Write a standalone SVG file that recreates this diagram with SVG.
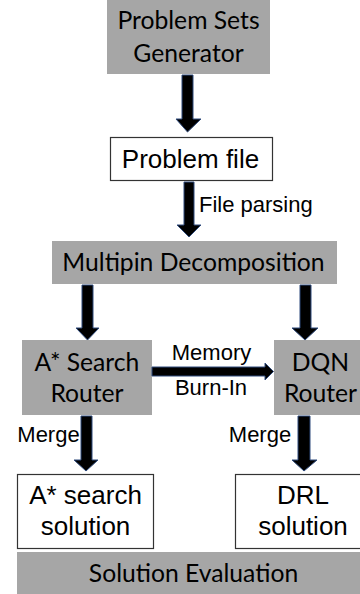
<svg xmlns="http://www.w3.org/2000/svg" width="360" height="594" viewBox="0 0 360 594">
<style>
.g{fill:#a6a6a6}
.w{fill:#fff;stroke:#333;stroke-width:1.2}
.arr{fill:#000;stroke:#2f4b7c;stroke-width:1}
.c{font-family:Lato,"Open Sans",sans-serif;font-size:24.7px;fill:#000;text-anchor:middle}
.a{font-family:"Liberation Sans",Arial,sans-serif;font-size:26px;fill:#000;text-anchor:middle}
.l{font-family:"Liberation Sans",Arial,sans-serif;font-size:22px;fill:#000;text-anchor:middle}
</style>
<rect width="360" height="594" fill="#fff"/>
<g id="gen"><rect class="g" x="107" y="-1" width="163" height="75"/><text class="c" x="188.5" y="29">Problem Sets</text><text class="c" x="188.5" y="62">Generator</text></g>
<g id="pfile"><rect class="w" x="110.5" y="137.5" width="162" height="43"/><text class="a" x="190.5" y="168">Problem file</text></g>
<g id="multipin"><rect class="g" x="52" y="241" width="285" height="43"/><text class="c" x="193.5" y="271">Multipin Decomposition</text></g>
<g id="astar"><rect class="g" x="22" y="340" width="130" height="75"/><text class="c" x="87" y="371">A* Search</text><text class="c" x="87" y="402">Router</text></g>
<g id="dqn"><rect class="g" x="274" y="340" width="90" height="75"/><text class="c" x="320.5" y="371">DQN</text><text class="c" x="320.5" y="402">Router</text></g>
<g id="asol"><rect class="w" x="17.5" y="474.5" width="136" height="74"/><text class="a" x="85.5" y="504">A* search</text><text class="a" x="85.5" y="535">solution</text></g>
<g id="drl"><rect class="w" x="235.5" y="474.5" width="130" height="74"/><text class="a" x="303" y="504">DRL</text><text class="a" x="303" y="535">solution</text></g>
<g id="eval"><rect class="g" x="17" y="552" width="350" height="45"/><text class="c" x="193.5" y="582">Solution Evaluation</text></g>
<g id="connectors">
<polygon class="arr" points="182,75 193,75 193,119 201,119 187.5,132 176,119 182,119"/>
<polygon class="arr" points="184,182 194,182 194,225 201,225 189,237 177,225 184,225"/>
<polygon class="arr" points="82,285 93,285 93,328 99,328 87.5,340 76,328 82,328"/>
<polygon class="arr" points="300,285 311,285 311,328 318,328 305,340 292,328 300,328"/>
<polygon class="arr" points="81,416 92,416 92,460 98,460 86,471 74,460 81,460"/>
<polygon class="arr" points="298,416 310,416 310,460 317,460 304,471 292,460 298,460"/>
<polygon class="arr" points="152,367 265,367 265,363 273.5,371.5 265,380 265,376 152,376"/>
<text class="l" x="199" y="212" style="text-anchor:start">File parsing</text>
<text class="l" x="211.5" y="360">Memory</text>
<text class="l" x="211" y="395">Burn-In</text>
<text class="l" x="48.5" y="442">Merge</text>
<text class="l" x="260" y="442">Merge</text>
</g>
</svg>
